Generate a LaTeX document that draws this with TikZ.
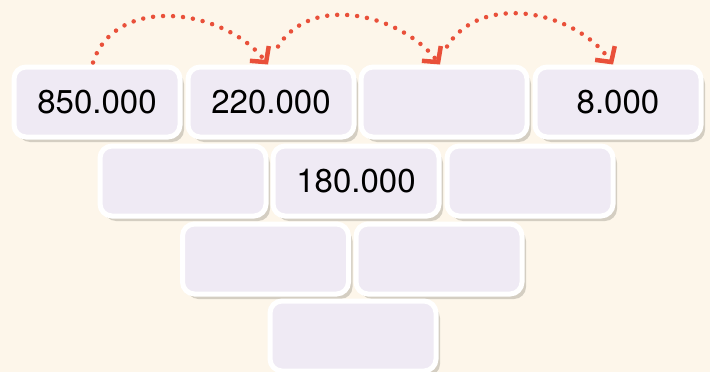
\documentclass[tikz,border=0pt]{standalone}
\usepackage{fontspec}
\setmainfont{TeX Gyre Heros}
\usepackage{xcolor}
\usetikzlibrary{arrows.meta, shadows}
\definecolor{cream}{HTML}{FDF6EA}
\definecolor{lilac}{HTML}{EFEAF4}
\definecolor{coral}{HTML}{E9503A}
\definecolor{shade}{HTML}{B9B4A8}

\begin{document}
\begin{tikzpicture}[x=1pt, y=-1pt,
    brick/.style={draw=white, line width=5pt, fill=lilac, rounded corners=12pt,
        minimum width=166pt, minimum height=70pt, inner sep=0pt,
        font=\fontsize{33}{36}\selectfont,
        drop shadow={shadow xshift=4pt, shadow yshift=-5pt, fill=shade, opacity=0.6}},
    hop/.style={coral, line width=4.5pt, line cap=round, dash pattern=on 0pt off 10pt,
        -{Straight Barb[length=11pt, width=24pt, line width=4.5pt]}}]
    % Background
    \fill[cream] (0,0) rectangle (710,372);
    \useasboundingbox (0,0) rectangle (710,372);
    % Top row
    \node[brick] (a1) at (97,102) {850.000};
    \node[brick] (a2) at (271,102) {220.000};
    \node[brick] (a3) at (444,102) {};
    \node[brick] (a4) at (618,102) {8.000};
    % Second row
    \node[brick] (b1) at (183,181) {};
    \node[brick] (b2) at (356,181) {180.000};
    \node[brick] (b3) at (530,181) {};
    % Third row
    \node[brick] (c1) at (265.5,259) {};
    \node[brick] (c2) at (439,259) {};
    % Bottom
    \node[brick] (d1) at (353,336) {};
    % Jumps
    \draw[hop] ([xshift=-4pt,yshift=2pt]a1.north) to[out=72,in=128,looseness=1.05] ([xshift=-3pt]a2.north);
    \draw[hop] ([xshift=7pt,yshift=18pt]a2.north) to[out=58,in=128,looseness=1] ([xshift=-4pt]a3.north);
    \draw[hop] ([xshift=3pt,yshift=18pt]a3.north) to[out=58,in=125,looseness=1] ([xshift=-5pt]a4.north);
\end{tikzpicture}
\end{document}
